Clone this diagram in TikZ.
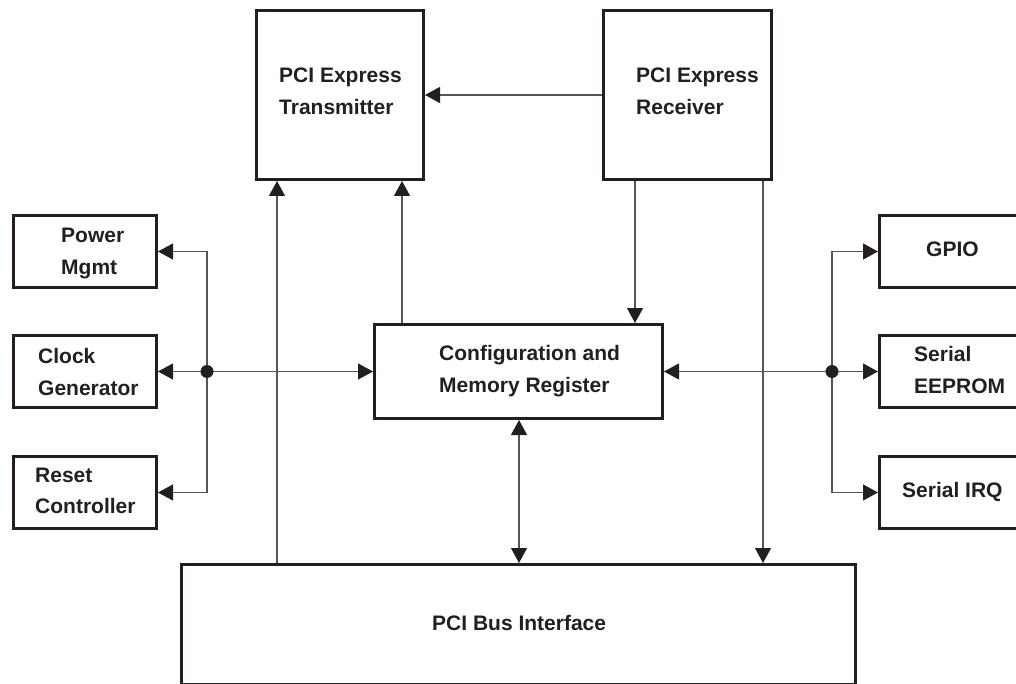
\documentclass[tikz,border=0pt]{standalone}
\usepackage{fontspec}
\setmainfont{Liberation Sans}
\usetikzlibrary{arrows.meta}
\definecolor{ink}{RGB}{35,31,32}
\definecolor{wire}{RGB}{85,85,85}
\begin{document}
\begin{tikzpicture}[x=1pt,y=-1pt,
  blk/.style={draw=ink,line width=3pt,inner sep=0pt,anchor=north west,fill=none},
  lbl/.style={anchor=base west,inner sep=0pt,text=ink,font=\fontsize{21}{25}\selectfont\bfseries},
  conn/.style={draw=wire,line width=1.1pt},
  arr/.style={conn,-{Triangle[length=15pt,width=16pt,color=ink]}},
  dbl/.style={conn,{Triangle[length=15pt,width=16pt,color=ink]}-{Triangle[length=15pt,width=16pt,color=ink]}},
  junction/.style={circle,fill=ink,inner sep=0pt,minimum size=13pt}]
\useasboundingbox (0,0) rectangle (1016,684);
\clip (0,0) rectangle (1016,684);
% boxes
\node[blk,minimum width=167pt,minimum height=169pt] (tx) at (255,9) {};
\node[blk,minimum width=168pt,minimum height=169pt] (rx) at (602,9) {};
\node[blk,minimum width=143pt,minimum height=72pt] (pm) at (12,214) {};
\node[blk,minimum width=143pt,minimum height=72pt] (cg) at (12,334) {};
\node[blk,minimum width=143pt,minimum height=72pt] (rc) at (12,455) {};
\node[blk,minimum width=288pt,minimum height=94pt] (cfg) at (373,323) {};
\node[blk,minimum width=159pt,minimum height=72pt] (gpio) at (878,214) {};
\node[blk,minimum width=159pt,minimum height=72pt] (ee) at (878,334) {};
\node[blk,minimum width=159pt,minimum height=72pt] (irq) at (878,455) {};
\node[blk,minimum width=674pt,minimum height=120pt] (bus) at (180,563) {};
% labels
\node[lbl] (tx1) at (279,83) {PCI Express};
\node[lbl] (tx2) at (279,115) {Transmitter};
\node[lbl] (rx1) at (636,83) {PCI Express};
\node[lbl] (rx2) at (636,115) {Receiver};
\node[lbl] (pm1) at (61,243) {Power};
\node[lbl] (pm2) at (61,275) {Mgmt};
\node[lbl] (cg1) at (38,363) {Clock};
\node[lbl] (cg2) at (38,395) {Generator};
\node[lbl] (rc1) at (35,482) {Reset};
\node[lbl] (rc2) at (35,513) {Controller};
\node[lbl] (gp1) at (926,257) {GPIO};
\node[lbl] (ee1) at (914,361) {Serial};
\node[lbl] (ee2) at (914,393) {EEPROM};
\node[lbl] (iq1) at (902,497) {Serial IRQ};
\node[lbl] (cf1) at (439,360) {Configuration and};
\node[lbl] (cf2) at (439,392) {Memory Register};
\node[lbl] (bs1) at (432,630) {PCI Bus Interface};
% helper coordinates
\coordinate (xA) at (277,0);
\coordinate (xB) at (402,0);
\coordinate (xC) at (635,0);
\coordinate (xD) at (763,0);
\coordinate (xE) at (519,0);
\coordinate (jl) at (207,371.5);
\coordinate (jr) at (832,371.5);
% connectors
\draw[arr] (rx) -- (tx);
\draw[arr] (bus.north -| xA) -- (tx.south -| xA);
\draw[arr] (cfg.north -| xB) -- (tx.south -| xB);
\draw[arr] (rx.south -| xC) -- (cfg.north -| xC);
\draw[arr] (rx.south -| xD) -- (bus.north -| xD);
\draw[dbl] (cfg.south -| xE) -- (bus.north -| xE);
\draw[arr] (jl) |- (pm.east);
\draw[arr] (jl) |- (rc.east);
\draw[arr] (jl) -- (cg.east);
\draw[arr] (jl) -- (cfg.west);
\draw[arr] (jr) -- (cfg.east);
\draw[arr] (jr) |- (gpio.west);
\draw[arr] (jr) -- (ee.west);
\draw[arr] (jr) |- (irq.west);
\node[junction] (dl) at (jl) {};
\node[junction] (dr) at (jr) {};
\end{tikzpicture}
\end{document}
